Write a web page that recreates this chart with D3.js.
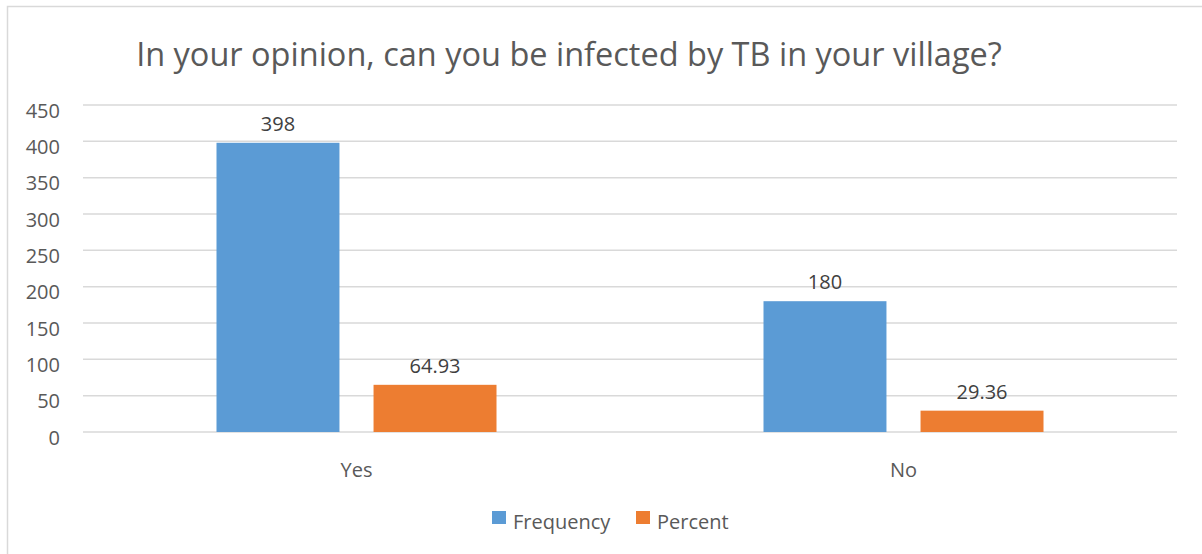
<!DOCTYPE html>
<html>
<head>
<meta charset="utf-8">
<script src="https://cdn.jsdelivr.net/npm/d3@7"></script>
<style>
  body { margin: 0; background: #fff; }
  text { font-family: "Open Sans", sans-serif; fill: #595959; }
</style>
</head>
<body>
<div id="chart-area"></div>
<script>
// data
let categories = ["Yes", "No"];
let seriesNames = ["Frequency", "Percent"];
let frequency = [398, 180];
let percent = [64.93, 29.36];
let yTicks = [0, 50, 100, 150, 200, 250, 300, 350, 400, 450];
let title = "In your opinion, can you be infected by TB in your village?";

let w = 1202;
let h = 554;
let colors = ["#5b9bd5", "#ed7d31"];

let svg = d3.select("#chart-area")
    .append("svg")
    .attr("width", w)
    .attr("height", h);

// chart border (runs off right/bottom like the screenshot)
svg.append("rect")
    .attr("x", 7.5).attr("y", 6.5)
    .attr("width", 1400).attr("height", 700)
    .attr("fill", "none")
    .attr("stroke", "#d9d9d9")
    .attr("stroke-width", 1.5);

let plot = {left: 83, right: 1177, top: 105, bottom: 432};

let x0 = d3.scaleBand()
    .domain(categories)
    .range([plot.left, plot.right]);

let x1 = d3.scaleBand()
    .domain(seriesNames)
    .range([x0.bandwidth() / 2 - 140, x0.bandwidth() / 2 + 140])
    .paddingInner(0.217);

let y = d3.scaleLinear()
    .domain([0, 450])
    .range([plot.bottom, plot.top]);

// gridlines
svg.append("g")
    .selectAll("line")
    .data(yTicks)
    .enter()
    .append("line")
    .attr("x1", plot.left)
    .attr("x2", plot.right)
    .attr("y1", function(d) { return y(d); })
    .attr("y2", function(d) { return y(d); })
    .attr("stroke", "#d9d9d9")
    .attr("stroke-width", 1.5);

// y axis labels
let yAxis = d3.axisLeft(y).tickValues(yTicks).tickSize(0).tickPadding(0);
let gy = svg.append("g")
    .attr("transform", "translate(60,0)")
    .call(yAxis);
gy.select(".domain").remove();
gy.selectAll("text")
    .attr("font-size", "20px")
    .attr("font-family", null)
    .attr("fill", "#595959")
    .attr("dy", "0.6em");

// bars
let rows = categories.map(function(c, i) {
  return {cat: c, vals: [frequency[i], percent[i]]};
});

let groups = svg.selectAll(".grp")
    .data(rows)
    .enter()
    .append("g")
    .attr("class", "grp")
    .attr("transform", function(d) { return "translate(" + x0(d.cat) + ",0)"; });

groups.selectAll("rect")
    .data(function(d) { return d.vals.map(function(v, j) { return {s: seriesNames[j], v: v, j: j}; }); })
    .enter()
    .append("rect")
    .attr("x", function(d) { return x1(d.s); })
    .attr("y", function(d) { return y(d.v); })
    .attr("width", x1.bandwidth())
    .attr("height", function(d) { return y(0) - y(d.v); })
    .attr("fill", function(d) { return colors[d.j]; });

// value labels
groups.selectAll(".val")
    .data(function(d) { return d.vals.map(function(v, j) { return {s: seriesNames[j], v: v}; }); })
    .enter()
    .append("text")
    .attr("class", "val")
    .text(function(d) { return d.v; })
    .attr("font-size", "20px")
    .attr("text-anchor", "middle")
    .style("fill", "#404040")
    .attr("x", function(d) { return x1(d.s) + x1.bandwidth() / 2; })
    .attr("y", function(d) { return y(d.v) - 12; });

// category labels
svg.selectAll(".cat")
    .data(categories)
    .enter()
    .append("text")
    .attr("class", "cat")
    .text(function(d) { return d; })
    .attr("font-size", "20px")
    .attr("text-anchor", "middle")
    .attr("x", function(d) { return x0(d) + x0.bandwidth() / 2; })
    .attr("y", 477);

// title
svg.append("text")
    .text(title)
    .attr("font-size", "32.5px")
    .attr("text-anchor", "middle")
    .attr("x", 569)
    .attr("y", 66);

// legend
let legendX = [492, 636];
let legend = svg.selectAll(".leg")
    .data(seriesNames)
    .enter()
    .append("g")
    .attr("class", "leg")
    .attr("transform", function(d, i) { return "translate(" + legendX[i] + ",511)"; });

legend.append("rect")
    .attr("width", 14)
    .attr("height", 13)
    .attr("fill", function(d, i) { return colors[i]; });

legend.append("text")
    .text(function(d) { return d; })
    .attr("font-size", "20px")
    .attr("x", 21)
    .attr("y", 18);
</script>
</body>
</html>
